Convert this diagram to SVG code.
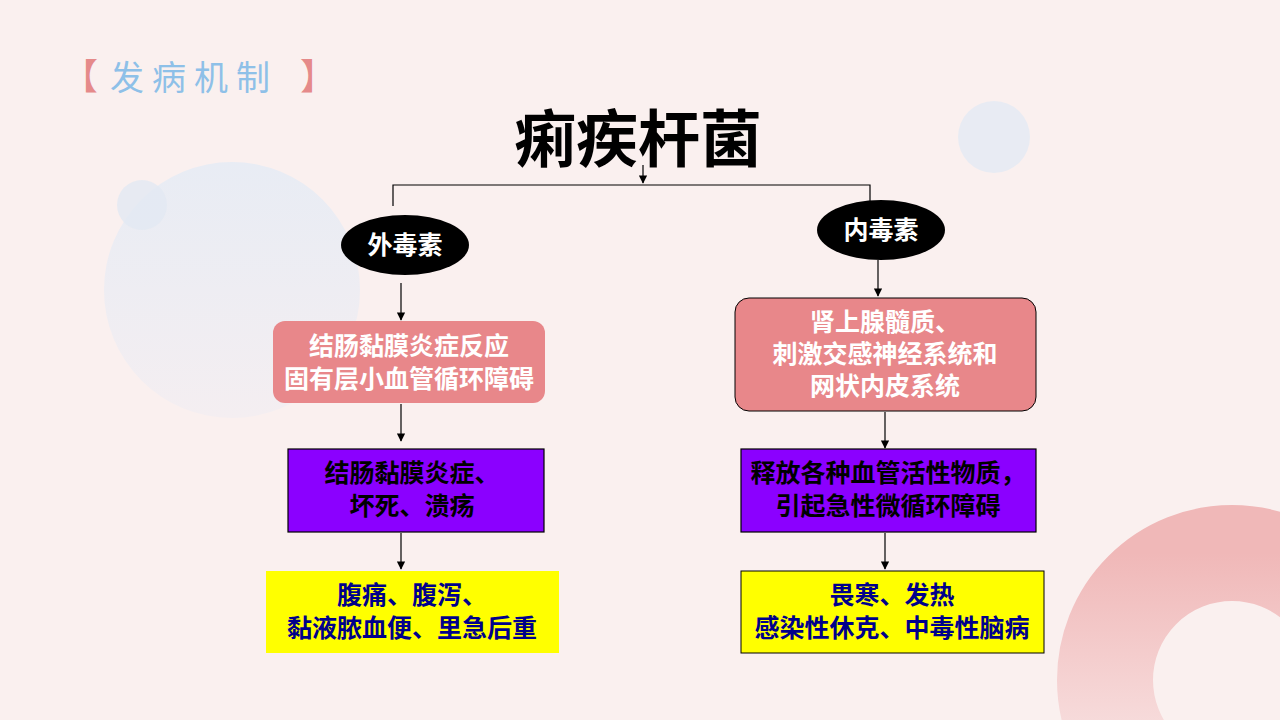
<svg xmlns="http://www.w3.org/2000/svg" width="1280" height="720" viewBox="0 0 1280 720">
<defs>
<style>
.t{font-family:"Noto Sans CJK SC","Liberation Sans",sans-serif;text-anchor:middle;font-weight:bold}
.w{fill:#fff;font-size:25px}
.k{fill:#000;font-size:25px}
.b{fill:#00008b;font-size:25px}
.c{stroke:#000;stroke-width:1.2;fill:none}
</style>
<marker id="a" viewBox="0 0 10 10" refX="9" refY="5" markerWidth="7" markerHeight="7" orient="auto"><path d="M0,0L10,5L0,10z" fill="#000"/></marker>
<linearGradient id="g1" x1="0" y1="0" x2="0" y2="1"><stop offset="0" stop-color="#e8ecf4"/><stop offset="1" stop-color="#f4eef1"/></linearGradient>
<linearGradient id="g2" x1="0" y1="0" x2="0" y2="1"><stop offset="0" stop-color="#f0b8b8"/><stop offset="1" stop-color="#faecec"/></linearGradient>
</defs>
<rect width="1280" height="720" fill="#faf0ef"/>
<circle cx="232" cy="290" r="128" fill="url(#g1)"/>
<circle cx="142" cy="205" r="25" fill="#e2e8f2" opacity="0.8"/>
<circle cx="994" cy="137" r="36" fill="#e8ebf3"/>
<circle cx="1232" cy="680" r="127" fill="none" stroke="url(#g2)" stroke-width="96"/>
<text x="62" y="90" font-family="Noto Sans CJK SC,sans-serif" font-size="36" fill="#e58a8a">【</text>
<text x="110" y="90" font-family="Noto Sans CJK SC,sans-serif" font-size="34" fill="#8ec0e8" letter-spacing="8">发病机制</text>
<text x="300" y="90" font-family="Noto Sans CJK SC,sans-serif" font-size="36" fill="#e58a8a">】</text>
<text class="t" x="638" y="162" font-size="62" fill="#000">痢疾杆菌</text>
<g id="connectors">
<path class="c" d="M643,165V183" marker-end="url(#a)"/>
<path class="c" d="M393,206V185H870V206"/>
<path class="c" d="M401,283V320" marker-end="url(#a)"/>
<path class="c" d="M401,404V441" marker-end="url(#a)"/>
<path class="c" d="M401,533V569" marker-end="url(#a)"/>
<path class="c" d="M878,260V296" marker-end="url(#a)"/>
<path class="c" d="M885,412V448" marker-end="url(#a)"/>
<path class="c" d="M885,533V569" marker-end="url(#a)"/>
</g>
<g id="n1"><ellipse cx="405" cy="245" rx="64" ry="30" fill="#000"/><text class="t w" x="405" y="254">外毒素</text></g>
<g id="n2"><ellipse cx="881" cy="230" rx="64" ry="30" fill="#000"/><text class="t w" x="881" y="239">内毒素</text></g>
<g id="n3"><rect x="273" y="321" width="272" height="82" rx="12" fill="#e8878a"/><text class="t w" x="409" y="355">结肠黏膜炎症反应</text><text class="t w" x="409" y="388">固有层小血管循环障碍</text></g>
<g id="n4"><rect x="735" y="298" width="301" height="113" rx="14" fill="#e8878a" stroke="#000" stroke-width="1"/><text class="t w" x="885" y="331" font-size="24">肾上腺髓质、</text><text class="t w" x="885" y="363" font-size="24">刺激交感神经系统和</text><text class="t w" x="885" y="395" font-size="24">网状内皮系统</text></g>
<g id="n5"><rect x="288" y="449" width="256" height="83" fill="#8b00ff" stroke="#000" stroke-width="1.2"/><text class="t k" x="412" y="482">结肠黏膜炎症、</text><text class="t k" x="412" y="515">坏死、溃疡</text></g>
<g id="n6"><rect x="741" y="449" width="295" height="83" fill="#8b00ff" stroke="#000" stroke-width="1.2"/><text class="t k" x="888" y="482">释放各种血管活性物质，</text><text class="t k" x="888" y="515">引起急性微循环障碍</text></g>
<g id="n7"><rect x="266" y="571" width="293" height="82" fill="#ffff00"/><text class="t b" x="412" y="604">腹痛、腹泻、</text><text class="t b" x="412" y="637">黏液脓血便、里急后重</text></g>
<g id="n8"><rect x="741" y="571" width="303" height="82" fill="#ffff00" stroke="#000" stroke-width="1"/><text class="t b" x="892" y="604">畏寒、发热</text><text class="t b" x="892" y="637">感染性休克、中毒性脑病</text></g>
</svg>
